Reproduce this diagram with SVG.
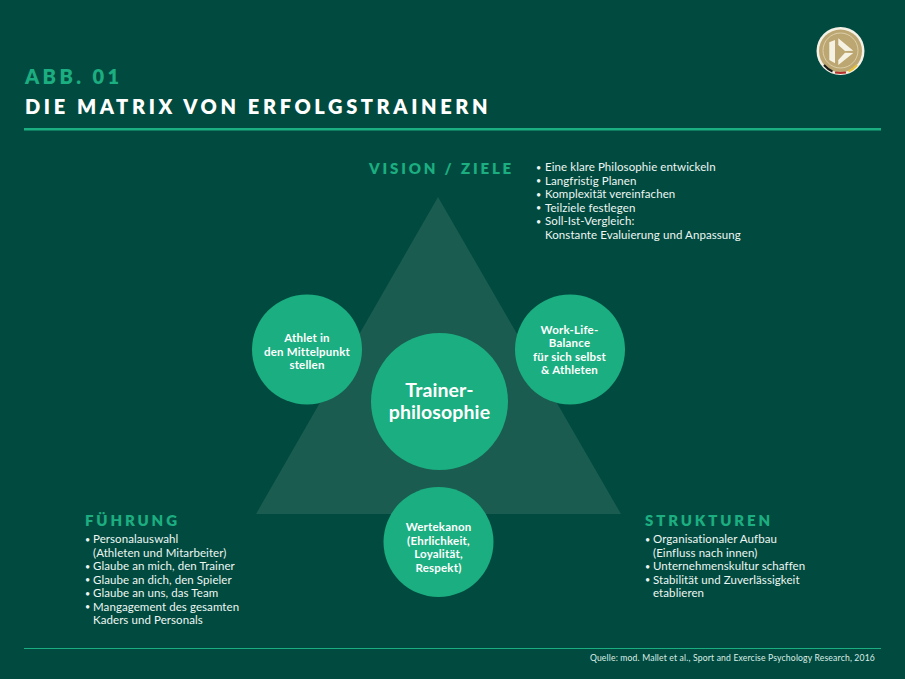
<svg xmlns="http://www.w3.org/2000/svg" width="905" height="679" viewBox="0 0 905 679">
<style>
text{font-family:"Lato","Noto Sans","Liberation Sans",sans-serif;fill:#fff}
.h{font-weight:800;fill:#1cae80;font-size:15px;letter-spacing:2.85px}
.b{font-size:11.5px;fill:#eef7f3;letter-spacing:.08px}
.d{font-size:9px;fill:#eef7f3}
.n{font-size:11.5px;font-weight:700;text-anchor:middle;letter-spacing:.2px}
.c{fill:#1bae80}
</style>
<rect width="905" height="679" fill="#004a3f"/>
<g id="logo">
<circle cx="840.500" cy="51" r="24" fill="#f4f1e6"/>
<circle cx="840.500" cy="51" r="21.500" fill="#bca671"/>
<circle cx="840.500" cy="50.500" r="17.500" fill="none" stroke="#dccfa9" stroke-width="1"/>
<path d="M829.300 42.300L835 40V63.300L829.300 60ZM838.300 38.300L853.300 50.700L845 51L838.300 45ZM838.300 65L853.300 53L845 52.700L838.300 60Z" fill="#f6f2e3"/>
<path d="M824 65Q828 69.500 832.500 71.500" fill="none" stroke="#1a1a1a" stroke-width="2"/>
<path d="M835 72.500Q840.500 73.400 846 72.500" fill="none" stroke="#b5322c" stroke-width="2"/>
<path d="M848.500 71.500Q853 69.500 857 65" fill="none" stroke="#e8c23c" stroke-width="2"/>
</g>
<g id="title">
<text x="25" y="84" font-size="20" font-weight="800" letter-spacing="3.4" style="fill:#1cae80">ABB. 01</text>
<text x="25" y="114" font-size="20" font-weight="800" letter-spacing="3.6">DIE MATRIX VON ERFOLGSTRAINERN</text>
</g>
<g id="rules">
<rect x="24" y="128" width="857" height="2.500" fill="#1bae80"/>
<rect x="24" y="648" width="857" height="1" fill="#1bae80"/>
</g>
<polygon id="triangle" points="438,197 621,514 256,514" fill="#1a5c50"/>
<g id="connectors"></g>
<g id="node-athlet">
<circle class="c" cx="307" cy="349.500" r="55"/>
<text class="n" x="307" y="342">Athlet in</text>
<text class="n" x="307" y="355.500">den Mittelpunkt</text>
<text class="n" x="307" y="369">stellen</text>
</g>
<g id="node-balance">
<circle class="c" cx="570" cy="349.500" r="55"/>
<text class="n" x="569.500" y="333.500">Work-Life-</text>
<text class="n" x="569.500" y="347">Balance</text>
<text class="n" x="569.500" y="360.500">für sich selbst</text>
<text class="n" x="569.500" y="374">&amp; Athleten</text>
</g>
<g id="node-trainer">
<circle class="c" cx="439.500" cy="401.500" r="68.500"/>
<text x="439.500" y="397" font-size="19.500" font-weight="700" text-anchor="middle" letter-spacing=".1">Trainer-</text>
<text x="439.500" y="419" font-size="19.500" font-weight="700" text-anchor="middle" letter-spacing=".1">philosophie</text>
</g>
<g id="node-werte">
<circle class="c" cx="438.500" cy="542" r="55"/>
<text class="n" x="438.500" y="531">Wertekanon</text>
<text class="n" x="438.500" y="544.500">(Ehrlichkeit,</text>
<text class="n" x="438.500" y="558">Loyalität,</text>
<text class="n" x="438.500" y="571.500">Respekt)</text>
</g>
<g id="vision">
<text class="h" x="369" y="174">VISION / ZIELE</text>
<text class="d" x="536" y="170.500">•</text><text class="b" x="545" y="171">Eine klare Philosophie entwickeln</text>
<text class="d" x="536" y="184">•</text><text class="b" x="545" y="184.500">Langfristig Planen</text>
<text class="d" x="536" y="197.500">•</text><text class="b" x="545" y="198">Komplexität vereinfachen</text>
<text class="d" x="536" y="211">•</text><text class="b" x="545" y="211.500">Teilziele festlegen</text>
<text class="d" x="536" y="224.500">•</text><text class="b" x="545" y="225">Soll-Ist-Vergleich:</text>
<text class="b" x="545" y="238.500">Konstante Evaluierung und Anpassung</text>
</g>
<g id="fuehrung">
<text class="h" x="85" y="526">FÜHRUNG</text>
<text class="d" x="85" y="542.500">•</text><text class="b" x="93" y="543">Personalauswahl</text>
<text class="b" x="93" y="556.500">(Athleten und Mitarbeiter)</text>
<text class="d" x="85" y="569.500">•</text><text class="b" x="93" y="570">Glaube an mich, den Trainer</text>
<text class="d" x="85" y="583">•</text><text class="b" x="93" y="583.500">Glaube an dich, den Spieler</text>
<text class="d" x="85" y="596.500">•</text><text class="b" x="93" y="597">Glaube an uns, das Team</text>
<text class="d" x="85" y="610">•</text><text class="b" x="93" y="610.500">Mangagement des gesamten</text>
<text class="b" x="93" y="624">Kaders und Personals</text>
</g>
<g id="strukturen">
<text class="h" x="645" y="526">STRUKTUREN</text>
<text class="d" x="645" y="542.500">•</text><text class="b" x="653" y="543">Organisationaler Aufbau</text>
<text class="b" x="653" y="556.500">(Einfluss nach innen)</text>
<text class="d" x="645" y="569.500">•</text><text class="b" x="653" y="570">Unternehmenskultur schaffen</text>
<text class="d" x="645" y="583">•</text><text class="b" x="653" y="583.500">Stabilität und Zuverlässigkeit</text>
<text class="b" x="653" y="597">etablieren</text>
</g>
<text id="source" x="875" y="661" font-size="8.600" text-anchor="end" letter-spacing=".17" style="fill:#dcefe8">Quelle: mod. Mallet et al., Sport and Exercise Psychology Research, 2016</text>
</svg>
